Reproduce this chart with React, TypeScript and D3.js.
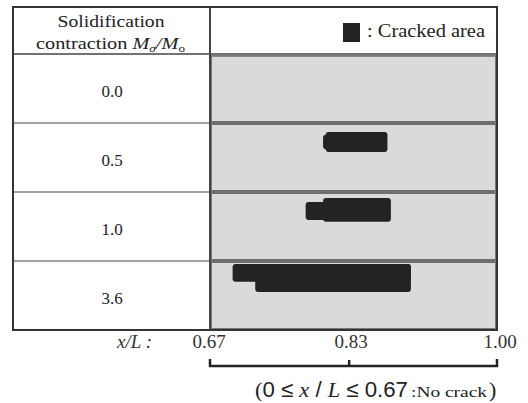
import React from "react";
import * as d3 from "d3";

const rowLabels = ["0.0", "0.5", "1.0", "3.6"];
const tickValues = [0.67, 0.83, 1.0];
const tickLabels = ["0.67", "0.83", "1.00"];
// cracked regions: row, x/L start, x/L end, top & bottom as fraction of row depth
const crackRow = ["0.5", "0.5", "1.0", "1.0", "3.6", "3.6"];
const crackStart = [0.8, 0.803, 0.78, 0.8, 0.696, 0.722];
const crackEnd = [0.815, 0.874, 0.81, 0.878, 0.901, 0.901];
const crackTop = [0.17, 0.13, 0.145, 0.087, 0.043, 0.043];
const crackBottom = [0.38, 0.42, 0.405, 0.43, 0.3, 0.45];

export default function App() {
  const W = 528, H = 403;
  const left = 13, mid = 210, right = 497, top = 7, headerBottom = 54, bottom = 330;
  const x = d3.scaleLinear().domain([0.67, 1.0]).range([mid, right]);
  const y = d3.scaleBand<string>().domain(rowLabels).range([headerBottom, bottom]).padding(0);
  const font = "'Liberation Serif', 'Times New Roman', serif";
  const sans = "'Liberation Sans', Arial, sans-serif";
  const bw = y.bandwidth();
  const by = 366;
  return (
    <div style={{ position: "absolute", left: 0, top: 0 }}>
      <svg width={W} height={H} style={{ display: "block" }}>
        <rect x={0} y={0} width={W} height={H} fill="#fff" />
        {rowLabels.map((r) => (
          <rect key={r} x={mid} y={y(r)!} width={right - mid} height={bw} fill="#dadada" />
        ))}
        {crackRow.map((r, i) => (
          <rect
            key={i}
            x={x(crackStart[i])}
            y={y(r)! + crackTop[i] * bw}
            width={x(crackEnd[i]) - x(crackStart[i])}
            height={(crackBottom[i] - crackTop[i]) * bw}
            rx={3}
            fill="#232323"
          />
        ))}
        {rowLabels.slice(1).map((r) => (
          <g key={r}>
            <line x1={left} x2={mid} y1={y(r)!} y2={y(r)!} stroke="#444" strokeWidth={1.2} />
            <line x1={mid} x2={right} y1={y(r)!} y2={y(r)!} stroke="#6e6e6e" strokeWidth={4} />
          </g>
        ))}
        <line x1={left} x2={right} y1={headerBottom} y2={headerBottom} stroke="#444" strokeWidth={1.5} />
        <line x1={mid} x2={right} y1={headerBottom + 2} y2={headerBottom + 2} stroke="#888" strokeWidth={2} />
        <rect x={mid + 1} y={headerBottom + 1} width={right - mid - 2} height={bottom - headerBottom - 2} fill="none" stroke="#777" strokeWidth={2} />
        <rect x={left} y={top} width={right - left} height={bottom - top} fill="none" stroke="#333" strokeWidth={2} />
        <line x1={mid} x2={mid} y1={top} y2={bottom} stroke="#444" strokeWidth={2} />
        <text x={111} y={27} textAnchor="middle" fontFamily={font} fontSize={17} fill="#222" textLength={107} lengthAdjust="spacingAndGlyphs">Solidification</text>
        <text x={36} y={49} fontFamily={font} fontSize={17} fill="#222" textLength={149} lengthAdjust="spacingAndGlyphs">
          contraction <tspan fontStyle="italic">M</tspan>
          <tspan fontStyle="italic" fontSize={11} dy={3}>σ</tspan>
          <tspan dy={-3} fontStyle="italic">/M</tspan>
          <tspan fontSize={11} dy={3}>o</tspan>
        </text>
        <rect x={343} y={23} width={17} height={19} fill="#232323" />
        <text x={367} y={37} fontFamily={font} fontSize={18} fill="#222" textLength={118} lengthAdjust="spacingAndGlyphs">: Cracked area</text>
        {rowLabels.map((r) => (
          <text key={r} x={112} y={y(r)! + bw / 2 + 8} textAnchor="middle" fontFamily={font} fontSize={17} fill="#222">{r}</text>
        ))}
        <text x={152} y={348} textAnchor="end" fontFamily={font} fontSize={19} fontStyle="italic" fill="#333">x/L :</text>
        {tickValues.map((v, i) => (
          <text key={v} x={x(v) + (i === 0 ? -1 : i === 2 ? 3 : 2)} y={348} textAnchor="middle" fontFamily={font} fontSize={19} fill="#333">{tickLabels[i]}</text>
        ))}
        <path d={`M${x(0.67)},${by - 7}V${by}H${x(1.0)}V${by - 7}`} fill="none" stroke="#222" strokeWidth={2.5} />
        <line x1={x(0.83)} x2={x(0.83)} y1={by - 6} y2={by} stroke="#222" strokeWidth={2.5} />
        <text x={255} y={397} fontFamily={font} fontSize={22} fill="#222" textLength={153} lengthAdjust="spacingAndGlyphs">
          (<tspan fontFamily={sans}>0 ≤ </tspan>
          <tspan fontStyle="italic">x</tspan>
          <tspan fontFamily={sans}> / </tspan>
          <tspan fontStyle="italic">L</tspan>
          <tspan fontFamily={sans}> ≤ 0.67</tspan>
        </text>
        <text x={411} y={397} fontFamily={font} fontSize={14} fill="#222" textLength={76} lengthAdjust="spacingAndGlyphs">:No crack</text>
        <text x={489} y={397} fontFamily={font} fontSize={22} fill="#222">)</text>
      </svg>
    </div>
  );
}
